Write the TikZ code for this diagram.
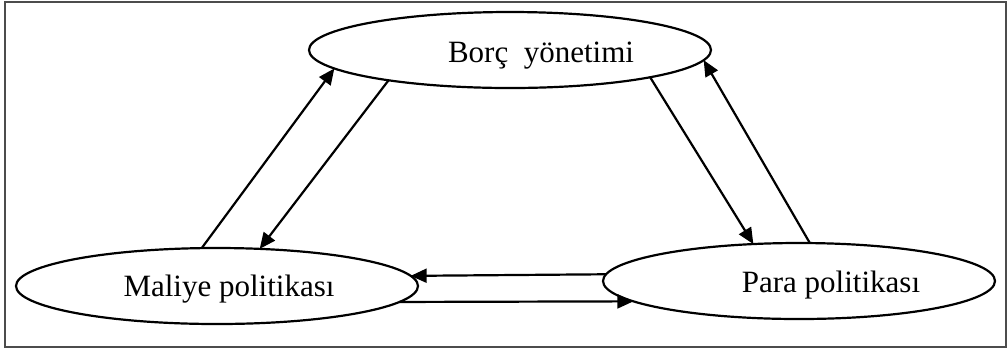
\documentclass[tikz,border=0pt]{standalone}
\usepackage{fontspec}
\setmainfont{Liberation Serif}
\usetikzlibrary{arrows.meta,shapes.geometric}

\begin{document}
\begin{tikzpicture}[x=0.5pt,y=-0.5pt,line width=1.1pt,
  oval/.style={draw,ellipse,inner sep=0pt,outer sep=0pt,minimum height=38pt},
  lbl/.style={anchor=base,inner sep=0pt,font=\fontsize{15.5}{18}\selectfont},
  arr/.style={-{Triangle[length=8pt,width=7pt]}}]
  \useasboundingbox (0,0) rectangle (1007,350);
  \draw[gray!60!black,line width=0.75pt] (5,2) rectangle (1006,347);
  % the three ellipses
  \node[oval,minimum width=201pt] (borc) at (510,50) {};
  \node[oval,minimum width=201pt] (maliye) at (217,286) {};
  \node[oval,minimum width=196pt] (para) at (799,281) {};
  \node[lbl] (borcT) at (541,62) {Borç\ \ yönetimi};
  \node[lbl] (maliyeT) at (229,296) {Maliye politikası};
  \node[lbl] (paraT) at (831,292) {Para politikası};
  % left pair
  \draw[arr] (maliye.112.7) -- (borc.186.4);
  \draw[arr] (borc.194.8) -- (maliye.41);
  % right pair
  \draw[arr] (borc.-11.5) -- (para.141.8);
  \draw[arr] (para.74.7) -- (borc.-3.7);
  % bottom pair
  \draw[arr] (para.178) -- (maliye.3.4);
  \draw[arr] (maliye.-5.25) -- (para.187.3);
\end{tikzpicture}
\end{document}
